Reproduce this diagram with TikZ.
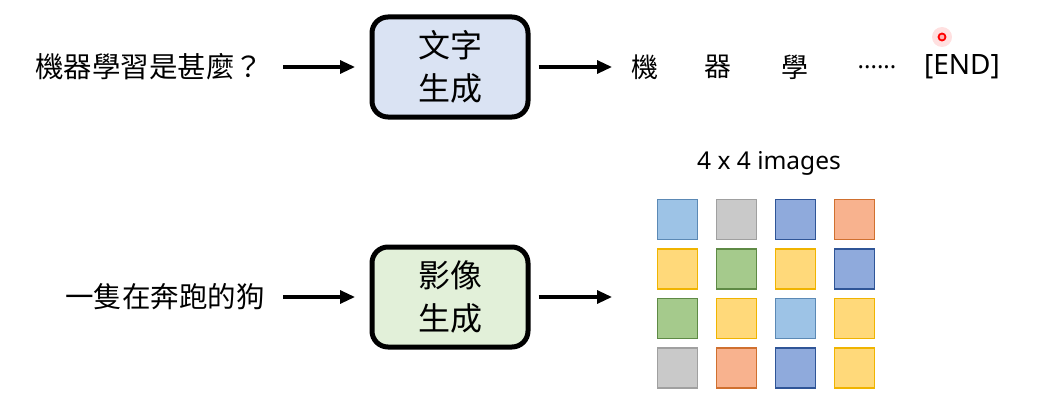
\documentclass[tikz,border=0pt]{standalone}
\usepackage{fontspec}
\setmainfont{Noto Sans}
\newfontfamily\cjkfont{Noto Sans CJK TC}
\usepackage{xcolor}
\usetikzlibrary{arrows.meta,positioning}
\definecolor{genblue}{HTML}{DAE3F3}
\definecolor{gengreen}{HTML}{E2F0D9}
\definecolor{sqlblue}{HTML}{9DC3E6}
\definecolor{sqgray}{HTML}{C9C9C9}
\definecolor{sqblue}{HTML}{8FAADC}
\definecolor{sqorange}{HTML}{F8B28E}
\definecolor{sqyellow}{HTML}{FFD97A}
\definecolor{sqgreen}{HTML}{A5CA8C}
\definecolor{sqlblueline}{HTML}{5B89B5}
\definecolor{sqgrayline}{HTML}{A0A0A0}
\definecolor{sqblueline}{HTML}{2F5597}
\definecolor{sqorangeline}{HTML}{D0702F}
\definecolor{sqyellowline}{HTML}{F0B400}
\definecolor{sqgreenline}{HTML}{5E8A45}

\begin{document}
\begin{tikzpicture}[
  x=1pt,y=-1pt,
  txt/.style={font=\cjkfont\fontsize{28.5}{30}\selectfont,inner sep=0pt},
  tok/.style={font=\cjkfont\fontsize{27}{28}\selectfont,inner sep=0pt},
  genbox/.style={draw=black,line width=5pt,rounded corners=16pt,
               minimum width=156pt,minimum height=100pt,align=center,
               font=\cjkfont\fontsize{32}{43}\selectfont},
  sq/.style={draw=#1line,line width=1.3pt,fill=#1,
               minimum size=40pt,inner sep=0pt},
  arr/.style={-{Triangle[length=15pt,width=13pt]},line width=3.2pt}
]
\useasboundingbox (0,0) rectangle (1039,404);

% text generation
\node[txt,anchor=west] (q) at (35,67) {機器學習是甚麼？};
\node[genbox,fill=genblue] (textgen) at (450,67) {文字\\生成};
\node[tok] (t1) at (645,67) {機};
\node[tok] (t2) at (718,67) {器};
\node[tok] (t3) at (795,67) {學};
\node[font=\fontsize{24}{28}\selectfont,inner sep=0pt] (t4) at (877,67) {......};
\node[font=\fontsize{28}{30}\selectfont,inner sep=0pt] (tend) at (962,67) {[END]};
\node[circle,fill=red!12,minimum size=20pt,inner sep=0pt] (glow) at (942,37) {};
\node[circle,draw=red,fill=red!30,line width=1.8pt,minimum size=7pt,
      inner sep=0pt] (dot) at (942,37) {};

\draw[arr] (283,67) coordinate (qa) -- (355,67) coordinate (qb);
\draw[arr] (textgen.east) ++(8,0) coordinate (ta) -- (612,67) coordinate (tb);

% image generation
\node[txt,anchor=west] (p) at (65,297) {一隻在奔跑的狗};
\node[genbox,fill=gengreen] (imggen) at (450,297) {影像\\生成};
\node[font=\fontsize{24.5}{26}\selectfont,inner sep=0pt] (cap) at (769,163) {4 x 4 images};

\draw[arr] (283,297) coordinate (pa) -- (355,297) coordinate (pb);
\draw[arr] (imggen.east) ++(8,0) coordinate (ia) -- (612,297) coordinate (ib);

\foreach \r/\c/\col in {1/1/sqlblue,1/2/sqgray,1/3/sqblue,1/4/sqorange,
                        2/1/sqyellow,2/2/sqgreen,2/3/sqyellow,2/4/sqblue,
                        3/1/sqgreen,3/2/sqyellow,3/3/sqlblue,3/4/sqyellow,
                        4/1/sqgray,4/2/sqorange,4/3/sqblue,4/4/sqyellow}
  \node[sq=\col] (sq\r\c) at ({677.5+59*(\c-1)},{219.5+49.5*(\r-1)}) {};
\end{tikzpicture}
\end{document}
